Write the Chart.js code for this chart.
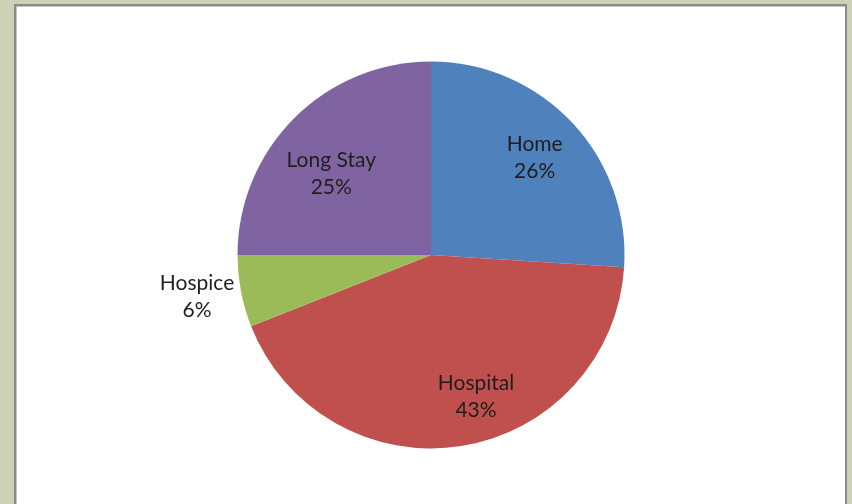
<!DOCTYPE html>
<html>
<head>
<meta charset="utf-8">
<script src="https://cdn.jsdelivr.net/npm/chart.js@4.4.0/dist/chart.umd.min.js"></script>
<style>
    html, body { margin: 0; padding: 0; }
    body { width: 852px; height: 504px; background: #cdd1b6; position: relative; overflow: hidden; }
    .frame {
        position: absolute; left: 14px; top: 4px; width: 829px; height: 520px;
        background: #fff; border: 2px solid #8a8a8a;
        box-shadow: inset 1px 1px 0 #c4c4c4;
    }
    #pieChart { position: absolute; left: 0; top: 0; }
</style>
</head>
<body>
<div class="frame"></div>
<canvas id="pieChart" width="852" height="504"></canvas>
<script>
// Data
const categories = ['Home', 'Hospital', 'Hospice', 'Long Stay'];
const shares = [26, 43, 6, 25];
const sliceColors = ['#4f81bd', '#c0504d', '#9bbb59', '#8064a2'];
// label placement: fraction of radius, and a nudge (degrees) from the slice middle
const labelRadius = [0.735, 0.765, 1.228, 0.667];
const labelNudge = [0, -8.7, 0.8, -5.6];

// Draw "name / xx%" labels on each slice
const sliceLabels = {
    id: 'sliceLabels',
    afterDatasetsDraw(chart) {
        const ctx = chart.ctx;
        const arcs = chart.getDatasetMeta(0).data;
        ctx.save();
        ctx.fillStyle = '#1e1e1e';
        ctx.font = '21px Lato, "Open Sans", sans-serif';
        ctx.textAlign = 'center';
        ctx.textBaseline = 'middle';
        arcs.forEach((arc, i) => {
            const mid = (arc.startAngle + arc.endAngle) / 2 + labelNudge[i] * Math.PI / 180;
            const r = arc.outerRadius * labelRadius[i];
            const x = arc.x + Math.cos(mid) * r;
            const y = arc.y + Math.sin(mid) * r;
            ctx.fillText(categories[i], x, y - 13);
            ctx.fillText(shares[i] + '%', x, y + 14);
        });
        ctx.restore();
    }
};

new Chart(document.getElementById('pieChart').getContext('2d'), {
    type: 'pie',
    data: {
        labels: categories,
        datasets: [{
            data: shares,
            backgroundColor: sliceColors,
            borderWidth: 0
        }]
    },
    options: {
        responsive: false,
        animation: false,
        layout: {
            padding: { left: 237.5, right: 227.5, top: 61.5, bottom: 55.5 }
        },
        plugins: {
            legend: { display: false },
            tooltip: { enabled: false }
        }
    },
    plugins: [sliceLabels]
});
</script>
</body>
</html>
